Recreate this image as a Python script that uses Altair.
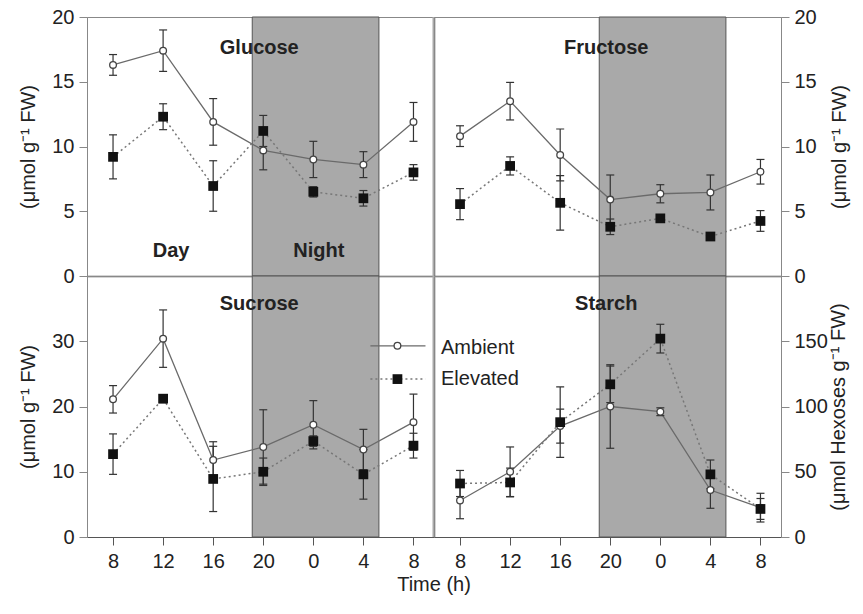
import json
import altair as alt
import pandas as pd

# Sampling times (h) over one day/night cycle
hours = ["8", "12", "16", "20", "0", "4", "8"]
slot = list(range(len(hours)))

# Means and standard errors, ambient vs elevated CO2
glucose_amb = [16.3, 17.4, 11.9, 9.7, 9.0, 8.6, 11.9]
glucose_amb_se = [0.8, 1.6, 1.8, 1.5, 1.4, 1.0, 1.5]
glucose_elev = [9.2, 12.3, 6.95, 11.2, 6.5, 6.0, 8.0]
glucose_elev_se = [1.7, 1.0, 1.95, 1.2, 0.4, 0.6, 0.6]

fructose_amb = [10.8, 13.5, 9.35, 5.9, 6.35, 6.45, 8.05]
fructose_amb_se = [0.8, 1.45, 2.0, 1.9, 0.7, 1.35, 0.95]
fructose_elev = [5.55, 8.5, 5.65, 3.8, 4.45, 3.05, 4.25]
fructose_elev_se = [1.2, 0.7, 2.1, 0.6, 0.2, 0.3, 0.8]

sucrose_amb = [21.1, 30.4, 11.8, 13.8, 17.2, 13.4, 17.6]
sucrose_amb_se = [2.1, 4.4, 2.8, 5.7, 3.7, 3.1, 4.3]
sucrose_elev = [12.7, 21.2, 8.9, 10.0, 14.7, 9.6, 14.0]
sucrose_elev_se = [3.1, 0.6, 5.0, 2.1, 0.8, 3.8, 1.9]

starch_amb = [28, 50, 85, 100, 96, 36, 22.5]
starch_amb_se = [14, 19, 13, 32, 3, 14, 11]
starch_elev = [41, 41.8, 88, 117, 152, 48, 21.5]
starch_elev_se = [10, 11, 27, 14, 11, 11, 8]

# Dark period, in sampling-slot units
night_start, night_end = 2.78, 5.31

series = {
    "Glucose": (glucose_amb, glucose_amb_se, glucose_elev, glucose_elev_se),
    "Fructose": (fructose_amb, fructose_amb_se, fructose_elev, fructose_elev_se),
    "Sucrose": (sucrose_amb, sucrose_amb_se, sucrose_elev, sucrose_elev_se),
    "Starch": (starch_amb, starch_amb_se, starch_elev, starch_elev_se),
}

rows = []
for sugar, (am, ase, el, ese) in series.items():
    for i in slot:
        rows.append(dict(sugar=sugar, slot=i, trt="Ambient", value=am[i],
                         lo=am[i] - ase[i], hi=am[i] + ase[i]))
        rows.append(dict(sugar=sugar, slot=i, trt="Elevated", value=el[i],
                         lo=el[i] - ese[i], hi=el[i] + ese[i]))
df = pd.DataFrame(rows)

FONT = "Liberation Sans"
FS = 20
XDOM = [-0.52, 6.41]
PW = 347
TOP_H = 259
BOT_H = 261
label_expr = json.dumps(hours) + "[datum.value]"


def panel(sugar, ydom, yticks, side, ytitle, bottom, height, title_y,
          title_pad, extra=None):
    d = df[df.sugar == sugar]
    if bottom:
        xaxis = alt.Axis(values=slot, labelExpr=label_expr, tickSize=8,
                         labelPadding=6, title=None, grid=False,
                         domainColor="#555", tickColor="#555")
    else:
        xaxis = alt.Axis(labels=False, ticks=False, title=None, grid=False,
                         domainColor="#555", domainWidth=1.5)
    xs = alt.Scale(domain=XDOM, nice=False, zero=False)
    ys = alt.Scale(domain=ydom, nice=False, zero=True)
    yaxis = alt.Axis(orient=side, values=yticks, tickSize=8, labelPadding=5,
                     title=ytitle, grid=False, domainColor="#888",
                     tickColor="#888", titlePadding=title_pad,
                     titleAngle=270,
                     titleBaseline="bottom" if side == "left" else "top")
    X = alt.X("slot:Q", scale=xs, axis=xaxis)

    shade = alt.Chart(pd.DataFrame({"s": [night_start], "e": [night_end]})).mark_rect(
        color="#a9a9a9", stroke="#555", strokeWidth=1
    ).encode(
        x=alt.X("s:Q", scale=xs, axis=xaxis), x2="e:Q",
        y=alt.value(0), y2=alt.value(height),
    )
    amb = alt.Chart(d).transform_filter(alt.datum.trt == "Ambient")
    elv = alt.Chart(d).transform_filter(alt.datum.trt == "Elevated")

    amb_line = amb.mark_line(color="#6a6a6a", strokeWidth=1.3).encode(
        x=X, y=alt.Y("value:Q", scale=ys, axis=yaxis))
    elv_line = elv.mark_line(color="#777", strokeWidth=1.5,
                             strokeDash=[2, 3]).encode(
        x=X, y=alt.Y("value:Q", scale=ys, axis=yaxis))
    err = alt.Chart(d).mark_rule(color="#333", strokeWidth=1.2).encode(
        x=X, y=alt.Y("lo:Q", scale=ys, axis=yaxis), y2="hi:Q")
    cap_lo = alt.Chart(d).mark_tick(orient="horizontal", size=8, thickness=1.2,
                                    color="#333", opacity=1).encode(
        x=X, y=alt.Y("lo:Q", scale=ys, axis=yaxis))
    cap_hi = alt.Chart(d).mark_tick(orient="horizontal", size=8, thickness=1.2,
                                    color="#333", opacity=1).encode(
        x=X, y=alt.Y("hi:Q", scale=ys, axis=yaxis))
    amb_pt = amb.mark_circle(fill="white", stroke="#444", strokeWidth=1.3,
                             size=45, opacity=1).encode(
        x=X, y=alt.Y("value:Q", scale=ys, axis=yaxis))
    elv_pt = elv.mark_square(color="#111", size=95, opacity=1).encode(
        x=X, y=alt.Y("value:Q", scale=ys, axis=yaxis))

    title = alt.Chart(pd.DataFrame({"t": [sugar], "x": [2.92], "y": [title_y]})).mark_text(
        font=FONT, fontSize=FS, fontWeight="bold", color="#222"
    ).encode(x=alt.X("x:Q", scale=xs, axis=xaxis),
             y=alt.Y("y:Q", scale=ys, axis=yaxis), text="t:N")

    layers = [shade, amb_line, elv_line, err, cap_lo, cap_hi, amb_pt, elv_pt, title]
    if extra is not None:
        layers += extra(xs, ys, xaxis, yaxis)
    if side == "left":
        layers.append(
            alt.Chart(pd.DataFrame({"v": [0]})).mark_rule(
                color="#aaa", strokeWidth=3
            ).encode(x=alt.value(PW), y=alt.value(0), y2=alt.value(height))
        )
    return alt.layer(*layers).properties(width=PW, height=height)


def day_night(xs, ys, xaxis, yaxis):
    lab = pd.DataFrame({"t": ["Day", "Night"], "x": [1.16, 4.11], "y": [1.95, 1.95]})
    return [alt.Chart(lab).mark_text(font=FONT, fontSize=FS, fontWeight="bold",
                                     color="#222").encode(
        x=alt.X("x:Q", scale=xs, axis=xaxis),
        y=alt.Y("y:Q", scale=ys, axis=yaxis), text="t:N")]


def legend_keys(xs, ys, xaxis, yaxis):
    seg = pd.DataFrame({"x": [5.14, 6.24, 5.14, 6.24],
                        "y": [29.3, 29.3, 24.2, 24.2],
                        "trt": ["Ambient", "Ambient", "Elevated", "Elevated"]})
    mid = pd.DataFrame({"x": [5.68, 5.68], "y": [29.3, 24.2],
                        "trt": ["Ambient", "Elevated"]})
    X = alt.X("x:Q", scale=xs, axis=xaxis)
    Y = alt.Y("y:Q", scale=ys, axis=yaxis)
    return [
        alt.Chart(seg).transform_filter(alt.datum.trt == "Ambient").mark_line(
            color="#6a6a6a", strokeWidth=1.3).encode(x=X, y=Y),
        alt.Chart(seg).transform_filter(alt.datum.trt == "Elevated").mark_line(
            color="#777", strokeWidth=1.5, strokeDash=[2, 3]).encode(x=X, y=Y),
        alt.Chart(mid).transform_filter(alt.datum.trt == "Ambient").mark_circle(
            fill="white", stroke="#444", strokeWidth=1.3, size=45, opacity=1
        ).encode(x=X, y=Y),
        alt.Chart(mid).transform_filter(alt.datum.trt == "Elevated").mark_square(
            color="#111", size=95, opacity=1).encode(x=X, y=Y),
    ]


def legend_text(xs, ys, xaxis, yaxis):
    lab = pd.DataFrame({"t": ["Ambient", "Elevated"], "x": [-0.38, -0.38],
                        "y": [144.6, 120.8]})
    return [alt.Chart(lab).mark_text(font=FONT, fontSize=FS, align="left",
                                     baseline="middle", color="#222").encode(
        x=alt.X("x:Q", scale=xs, axis=xaxis),
        y=alt.Y("y:Q", scale=ys, axis=yaxis), text="t:N")]


unit = "(\u03bcmol g\u207b\u00b9 FW)"
tl = panel("Glucose", [0, 20], [0, 5, 10, 15, 20], "left", unit, False, TOP_H, 17.6,
           13, extra=day_night)
tr = panel("Fructose", [0, 20], [0, 5, 10, 15, 20], "right", unit, False, TOP_H, 17.6,
           13)
bl = panel("Sucrose", [0, 40], [0, 10, 20, 30], "left", unit, True, BOT_H, 35.7,
           13, extra=legend_keys)
br = panel("Starch", [0, 200], [0, 50, 100, 150], "right",
           "(\u03bcmol Hexoses g\u207b\u00b9 FW)", True, BOT_H, 178.3,
           1, extra=legend_text)

chart = alt.concat(tl, tr, bl, br, columns=2, spacing=0, bounds="flush").properties(
    title=alt.TitleParams("Time (h)", orient="bottom", anchor="middle",
                          font=FONT, fontSize=FS, fontWeight="normal",
                          color="#222", offset=3),
    padding={"left": 18, "top": 6, "right": 5, "bottom": 5},
    background="white",
).configure_view(
    stroke="#888", strokeWidth=1
).configure_axis(
    labelFont=FONT, labelFontSize=FS, labelColor="#222",
    titleFont=FONT, titleFontSize=FS, titleFontWeight="normal", titleColor="#222",
)

chart.save("out.html", embed_options={"renderer": "svg", "actions": False})
